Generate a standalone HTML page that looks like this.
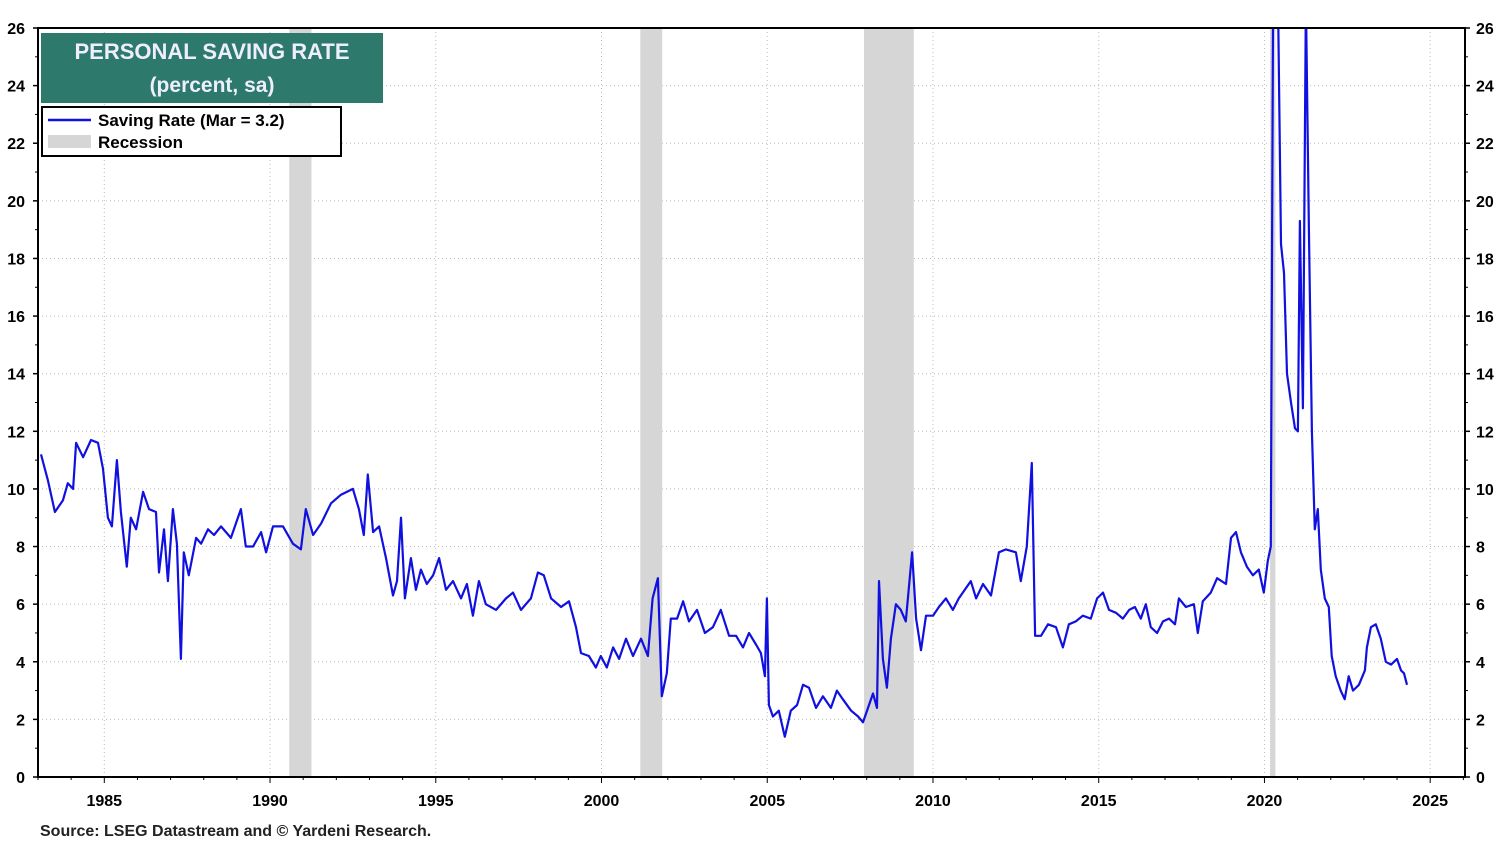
<!DOCTYPE html>
<html><head><meta charset="utf-8"><style>
body{margin:0;background:#fff;}
svg{display:block;font-family:"Liberation Sans",Arial,sans-serif;font-weight:bold;}
</style></head><body>
<svg id="chart" width="1498" height="864" viewBox="0 0 1498 864">
<defs><clipPath id="pc"><rect x="38" y="28" width="1427" height="749"/></clipPath></defs>
<g id="grid"></g>
<g id="rec" clip-path="url(#pc)"></g>
<g id="ser" clip-path="url(#pc)"></g>
<rect x="38" y="28" width="1427" height="749" fill="none" stroke="#000" stroke-width="2"/>
<g id="axes"></g>
<g>
<rect x="41" y="33" width="342" height="70" fill="#2d7a6c"/>
<text x="212" y="59" text-anchor="middle" fill="#eef" font-size="22">PERSONAL SAVING RATE</text>
<text x="212" y="92" text-anchor="middle" fill="#eef" font-size="21">(percent, sa)</text>
</g>
<g>
<rect x="42" y="107" width="299" height="49" fill="#fff" stroke="#000" stroke-width="2"/>
<line x1="48" y1="120" x2="91" y2="120" stroke="#1010e0" stroke-width="2.5"/>
<text x="98" y="126" font-size="17">Saving Rate (Mar = 3.2)</text>
<rect x="48" y="135" width="43" height="13" fill="#d6d6d6"/>
<text x="98" y="148" font-size="17">Recession</text>
</g>
<text x="40" y="836" font-size="16" fill="#222">Source: LSEG Datastream and © Yardeni Research.</text>
</svg>
<script>
const years=[1983.09,1983.30,1983.51,1983.75,1983.90,1984.06,1984.15,1984.36,1984.60,1984.81,1984.96,1985.11,1985.23,1985.38,1985.50,1985.68,1985.80,1985.96,1986.17,1986.35,1986.56,1986.65,1986.80,1986.92,1987.07,1987.19,1987.31,1987.40,1987.55,1987.77,1987.92,1988.13,1988.31,1988.52,1988.82,1989.12,1989.27,1989.49,1989.73,1989.88,1990.09,1990.39,1990.69,1990.93,1991.08,1991.30,1991.54,1991.84,1992.14,1992.50,1992.68,1992.83,1992.95,1993.11,1993.29,1993.50,1993.71,1993.83,1993.95,1994.07,1994.25,1994.40,1994.55,1994.73,1994.92,1995.10,1995.31,1995.52,1995.76,1995.94,1996.12,1996.30,1996.51,1996.82,1997.12,1997.33,1997.57,1997.87,1998.08,1998.26,1998.48,1998.78,1999.02,1999.23,1999.38,1999.62,1999.83,1999.98,2000.16,2000.35,2000.53,2000.74,2000.95,2001.19,2001.40,2001.54,2001.70,2001.82,2001.97,2002.09,2002.28,2002.46,2002.64,2002.88,2003.12,2003.36,2003.60,2003.85,2004.06,2004.27,2004.45,2004.66,2004.81,2004.93,2004.99,2005.05,2005.17,2005.35,2005.53,2005.71,2005.90,2006.08,2006.26,2006.47,2006.68,2006.92,2007.10,2007.28,2007.53,2007.74,2007.89,2008.07,2008.19,2008.31,2008.37,2008.49,2008.61,2008.73,2008.88,2009.03,2009.18,2009.37,2009.49,2009.64,2009.79,2010.00,2010.18,2010.39,2010.60,2010.78,2010.96,2011.14,2011.30,2011.51,2011.75,2011.99,2012.20,2012.50,2012.65,2012.83,2012.98,2013.08,2013.26,2013.47,2013.71,2013.92,2014.10,2014.31,2014.52,2014.76,2014.95,2015.13,2015.31,2015.52,2015.73,2015.92,2016.09,2016.27,2016.42,2016.57,2016.76,2016.94,2017.12,2017.30,2017.42,2017.63,2017.87,2017.99,2018.14,2018.38,2018.57,2018.84,2018.99,2019.14,2019.29,2019.47,2019.65,2019.83,2019.98,2020.10,2020.19,2020.28,2020.41,2020.50,2020.59,2020.68,2020.80,2020.92,2021.01,2021.07,2021.16,2021.25,2021.34,2021.43,2021.52,2021.61,2021.70,2021.82,2021.94,2022.03,2022.15,2022.30,2022.42,2022.54,2022.67,2022.85,2023.03,2023.09,2023.21,2023.36,2023.51,2023.66,2023.82,2024.00,2024.12,2024.21,2024.30];
const rates=[11.2,10.3,9.2,9.6,10.2,10.0,11.6,11.1,11.7,11.6,10.7,9.0,8.7,11.0,9.2,7.3,9.0,8.6,9.9,9.3,9.2,7.1,8.6,6.8,9.3,8.1,4.1,7.8,7.0,8.3,8.1,8.6,8.4,8.7,8.3,9.3,8.0,8.0,8.5,7.8,8.7,8.7,8.1,7.9,9.3,8.4,8.8,9.5,9.8,10.0,9.3,8.4,10.5,8.5,8.7,7.6,6.3,6.8,9.0,6.2,7.6,6.5,7.2,6.7,7.0,7.6,6.5,6.8,6.2,6.7,5.6,6.8,6.0,5.8,6.2,6.4,5.8,6.2,7.1,7.0,6.2,5.9,6.1,5.2,4.3,4.2,3.8,4.2,3.8,4.5,4.1,4.8,4.2,4.8,4.2,6.2,6.9,2.8,3.6,5.5,5.5,6.1,5.4,5.8,5.0,5.2,5.8,4.9,4.9,4.5,5.0,4.6,4.3,3.5,6.2,2.5,2.1,2.3,1.4,2.3,2.5,3.2,3.1,2.4,2.8,2.4,3.0,2.7,2.3,2.1,1.9,2.5,2.9,2.4,6.8,4.1,3.1,4.8,6.0,5.8,5.4,7.8,5.5,4.4,5.6,5.6,5.9,6.2,5.8,6.2,6.5,6.8,6.2,6.7,6.3,7.8,7.9,7.8,6.8,8.0,10.9,4.9,4.9,5.3,5.2,4.5,5.3,5.4,5.6,5.5,6.2,6.4,5.8,5.7,5.5,5.8,5.9,5.5,6.0,5.2,5.0,5.4,5.5,5.3,6.2,5.9,6.0,5.0,6.1,6.4,6.9,6.7,8.3,8.5,7.8,7.3,7.0,7.2,6.4,7.5,8.0,32.0,27.0,18.5,17.5,14.0,13.0,12.1,12.0,19.3,12.8,27.0,19.0,12.0,8.6,9.3,7.2,6.2,5.9,4.2,3.5,3.0,2.7,3.5,3.0,3.2,3.7,4.5,5.2,5.3,4.8,4.0,3.9,4.1,3.7,3.6,3.2];
const recStart=[1990.58,2001.17,2007.92,2020.17];
const recEnd=[1991.25,2001.83,2009.42,2020.33];
const xTicks=[1985,1990,1995,2000,2005,2010,2015,2020,2025];
const yTicks=[0,2,4,6,8,10,12,14,16,18,20,22,24,26];
const NS="http://www.w3.org/2000/svg";
const X0=38,X1=1465,Y0=777,Y1=28,YR0=1983.0,YR1=2026.05;
const sx=v=>X0+(v-YR0)/(YR1-YR0)*(X1-X0);
const sy=v=>Y0-(v/26)*(Y0-Y1);
function mk(t,a,p){const e=document.createElementNS(NS,t);for(const k in a)e.setAttribute(k,a[k]);p.appendChild(e);return e;}
const grid=document.getElementById('grid'),rec=document.getElementById('rec'),ser=document.getElementById('ser'),axes=document.getElementById('axes');
yTicks.forEach(v=>{
 const y=sy(v);
 if(v>0&&v<26){const g=mk('line',{x1:X0,x2:X1,y1:y,y2:y,stroke:'#bbb','stroke-dasharray':'1 3'},grid);
 
 }
 const l=mk('text',{x:25,y:y+6,'text-anchor':'end','font-size':16},axes);l.textContent=v;
 
 
 const r=mk('text',{x:1476,y:y+6,'font-size':16},axes);r.textContent=v;
 
 
 mk('line',{x1:X0-5,x2:X0,y1:y,y2:y,stroke:'#000','stroke-width':1.5},axes);
 mk('line',{x1:X1,x2:X1+5,y1:y,y2:y,stroke:'#000','stroke-width':1.5},axes);
});
for(let v=1;v<26;v+=2){const y=sy(v);mk('line',{x1:X0-3,x2:X0,y1:y,y2:y,stroke:'#000'},axes);mk('line',{x1:X1,x2:X1+3,y1:y,y2:y,stroke:'#000'},axes);}
for(let yr=1983;yr<=2026;yr++){const x=sx(yr);mk('line',{x1:x,x2:x,y1:Y0,y2:Y0+(yr%5==0?6:3),stroke:'#000'},axes);}
xTicks.forEach(v=>{
 const x=sx(v);
 const g=mk('line',{x1:x,x2:x,y1:Y1,y2:Y0,stroke:'#bbb','stroke-dasharray':'1 3'},grid);
 
 
 const t=mk('text',{x:x,y:806,'text-anchor':'middle','font-size':16},axes);t.textContent=v;
 
 
});
recStart.forEach((s,i)=>{
 const r=mk('rect',{x:sx(s),y:Y1,width:Math.max(2,sx(recEnd[i])-sx(s)),height:Y0-Y1,fill:'#d6d6d6'},rec);
 
 
});
const d=years.map((yr,i)=>(i?'L':'M')+sx(yr).toFixed(1)+','+sy(rates[i]).toFixed(1)).join('');
const p=mk('path',{d:d,fill:'none',stroke:'#1010e0','stroke-width':2.2,'stroke-linejoin':'round'},ser);


</script>
</body></html>
